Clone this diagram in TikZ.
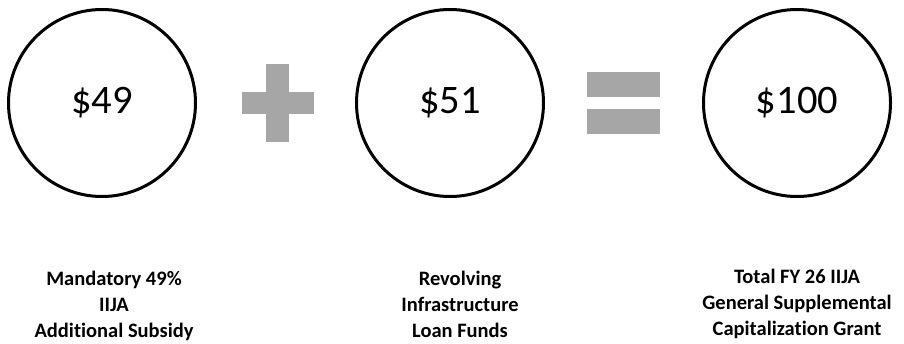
\documentclass[tikz,border=0pt]{standalone}
\usepackage{fontspec}
\setmainfont{Carlito}[Ligatures={NoCommon}]
\usepackage{xcolor}
\usepackage{tikz}
\definecolor{opgray}{HTML}{A6A6A6}

\begin{document}
\begin{tikzpicture}[x=1pt,y=-1pt]
    % Block styles
    \tikzstyle{amount} = [circle, draw, line width=3pt, minimum size=187pt, inner sep=0pt, font=\fontsize{40.5}{48}\selectfont]
    \tikzstyle{bar} = [rectangle, fill=opgray, inner sep=0pt]
    \tikzstyle{caption} = [align=center, anchor=base, font=\bfseries\fontsize{20.5}{26}\selectfont]
    \useasboundingbox (0,0) rectangle (904,343);
    % Amounts
    \node[amount] (subsidy) at (102,103) {\$49};
    \node[amount] (loanfund) at (450,103) {\$51};
    \node[amount] (grant) at (797,103) {\$100};
    % Operators
    \node[bar, minimum width=72pt, minimum height=22pt] (plus_h) at (278,103) {};
    \node[bar, minimum width=23pt, minimum height=78pt] (plus_v) at (277.5,103) {};
    \node[bar, minimum width=73pt, minimum height=25pt] (eq_top) at (623.5,84.5) {};
    \node[bar, minimum width=73pt, minimum height=25pt] (eq_bot) at (623.5,121.5) {};
    % Captions
    \node[caption] (subsidy_txt) at (114,337) {Mandatory 49\%\\IIJA\\Additional Subsidy};
    \node[caption] (loanfund_txt) at (460,337) {Revolving\\Infrastructure\\Loan Funds};
    \node[caption] (grant_txt) at (797,335) {Total FY 26 IIJA\\General Supplemental\\Capitalization Grant};
\end{tikzpicture}
\end{document}
